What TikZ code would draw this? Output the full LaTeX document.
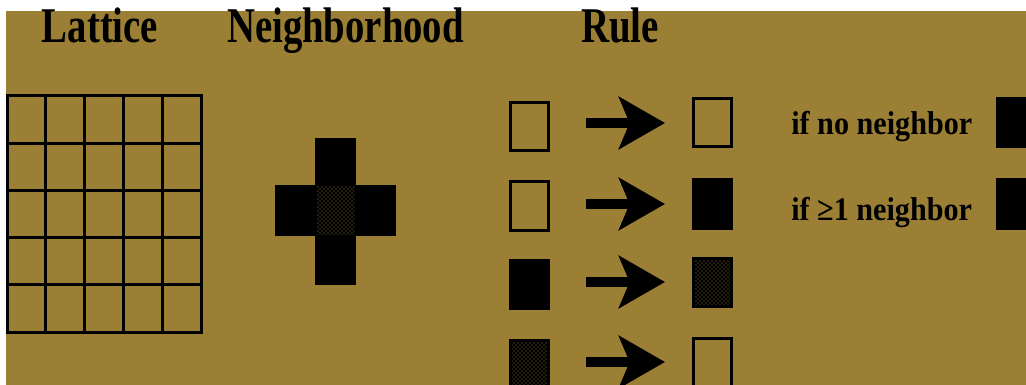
\documentclass[tikz,border=0pt]{standalone}
\usepackage{fontspec}
\setmainfont{Liberation Serif}
\usetikzlibrary{arrows.meta,patterns}

\definecolor{olivebg}{RGB}{155,127,52}

\tikzset{
    heading/.style={font=\fontsize{37.5pt}{40pt}\selectfont\bfseries, anchor=base, inner sep=0pt},
    ruletext/.style={font=\fontsize{24.75pt}{26pt}\selectfont\bfseries, anchor=base west, inner sep=0pt},
    gridline/.style={line width=2.25pt, line cap=rect},
    cellopen/.style={draw, line width=2.25pt, minimum width=28.5pt, minimum height=36pt, inner sep=0pt},
    cellblack/.style={cellopen, fill=black},
    cellgrey/.style={cellblack, path picture={\fill[pattern=crosshatch dots, pattern color=olivebg] (path picture bounding box.south west) rectangle (path picture bounding box.north east);}},
    bigarrow/.style={line width=7.5pt, -{Stealth[length=34.5pt, width=39pt, inset=8pt]}, shorten <=27pt, shorten >=20.25pt}
}

\begin{document}
\begin{tikzpicture}[x=0.75pt, y=-0.75pt]
    \useasboundingbox (0,0) rectangle (1026,385);
    \clip (0,0) rectangle (1026,385);
    \fill[white] (0,0) rectangle (1026,385);
    \fill[olivebg] (6,11) rectangle (1026,385);

    % Headings
    \node[heading] (hlat) at (100,43) {\scalebox{0.775}[1]{Lattice}};
    \node[heading] (hnb) at (345.5,43) {\scalebox{0.775}[1]{Neighborhood}};
    \node[heading] (hrule) at (620,43) {\scalebox{0.78}[1]{Rule}};

    % Lattice
    \foreach \i in {0,...,5} {
        \draw[gridline] ({7+38.8*\i},96) -- ({7+38.8*\i},332);
        \draw[gridline] (7,{96+47.2*\i}) -- (201,{96+47.2*\i});
    }

    % Neighborhood (cross with stippled centre)
    \fill (315,138) rectangle (356,285);
    \fill (275,185) rectangle (396,236);
    \fill[pattern=crosshatch dots, pattern color=olivebg] (317,187) rectangle (354,234);

    % Rule: old state -> new state
    \node[cellopen]  (l1) at (529.5,126.5) {};
    \node[cellopen]  (l2) at (529.5,206) {};
    \node[cellblack] (l3) at (529.5,284) {};
    \node[cellgrey]  (l4) at (529.5,364.5) {};

    \node[cellopen]  (r1) at (712.5,123) {};
    \node[cellblack] (r2) at (712.5,204) {};
    \node[cellgrey]  (r3) at (712.5,282) {};
    \node[cellopen]  (r4) at (712.5,362) {};

    \draw[bigarrow] (l1.east |- r1.west) -- (r1.west);
    \draw[bigarrow] (l2.east |- r2.west) -- (r2.west);
    \draw[bigarrow] (l3.east |- r3.west) -- (r3.west);
    \draw[bigarrow] (l4.east |- r4.west) -- (r4.west);

    % Conditions
    \node[ruletext] (c1) at (791,135) {\scalebox{0.914}[1]{if no neighbor}};
    \node[ruletext] (c2) at (791,220) {\scalebox{0.914}[1]{if ≥1 neighbor}};
    \node[cellblack] (k1) at (1016.5,123) {};
    \node[cellblack] (k2) at (1016.5,204) {};
\end{tikzpicture}
\end{document}
